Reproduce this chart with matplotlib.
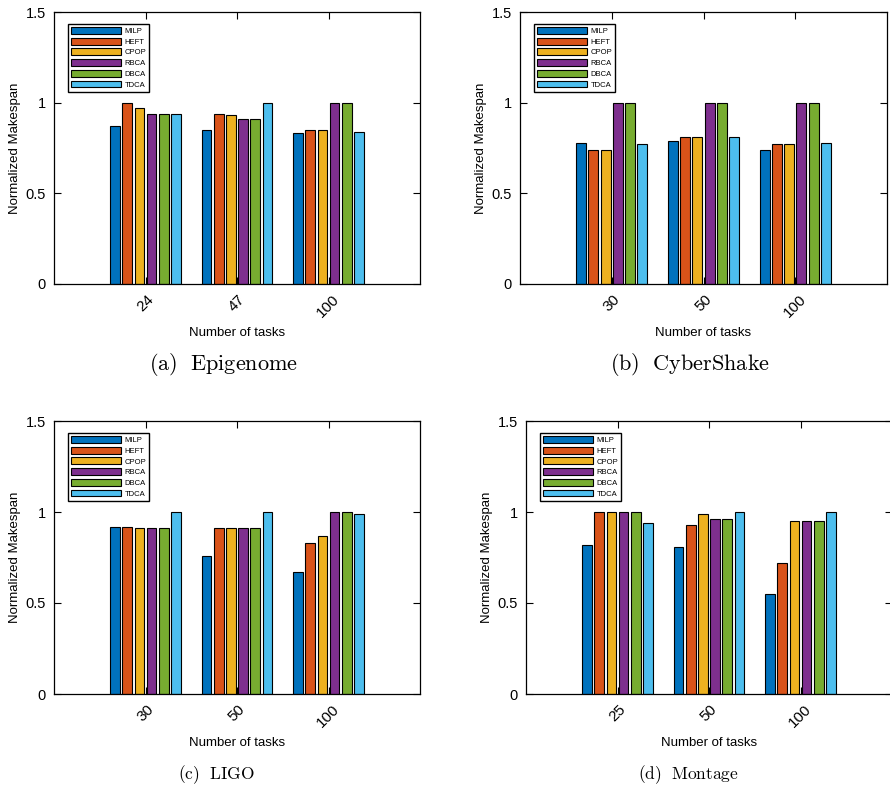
import matplotlib
matplotlib.use('Agg')
import matplotlib.pyplot as plt
import numpy as np

plt.rcParams['font.family'] = ['Liberation Sans', 'DejaVu Sans']
plt.rcParams['mathtext.fontset'] = 'cm'

methods = ['MILP', 'HEFT', 'CPOP', 'RBCA', 'DBCA', 'TDCA']
colors = ['#0072BD', '#D95319', '#EDB120', '#7E2F8E', '#77AC30', '#4DBEEE']

epigenome_tasks = ['24', '47', '100']
epigenome_vals = [[0.87, 0.85, 0.83], [1.00, 0.94, 0.85], [0.97, 0.93, 0.85],
                  [0.94, 0.91, 1.00], [0.94, 0.91, 1.00], [0.94, 1.00, 0.84]]
cybershake_tasks = ['30', '50', '100']
cybershake_vals = [[0.78, 0.79, 0.74], [0.74, 0.81, 0.77], [0.74, 0.81, 0.77],
                   [1.00, 1.00, 1.00], [1.00, 1.00, 1.00], [0.77, 0.81, 0.78]]
ligo_tasks = ['30', '50', '100']
ligo_vals = [[0.92, 0.76, 0.67], [0.92, 0.91, 0.83], [0.91, 0.91, 0.87],
             [0.91, 0.91, 1.00], [0.91, 0.91, 1.00], [1.00, 1.00, 0.99]]
montage_tasks = ['25', '50', '100']
montage_vals = [[0.82, 0.81, 0.55], [1.00, 0.93, 0.72], [1.00, 0.99, 0.95],
                [1.00, 0.96, 0.95], [1.00, 0.96, 0.95], [0.94, 1.00, 1.00]]

yticks = [0, 0.5, 1, 1.5]
ytick_labels = ['0', '0.5', '1', '1.5']

W, H = 890, 785
fig = plt.figure(figsize=(W / 100, H / 100), dpi=100)


def rect(l, r, t, b):
    return [l / W, 1 - b / H, (r - l) / W, (b - t) / H]


panels = [
    (rect(54, 420, 12, 284), epigenome_tasks, epigenome_vals),
    (rect(520, 887, 12, 284), cybershake_tasks, cybershake_vals),
    (rect(54, 420, 421, 694), ligo_tasks, ligo_vals),
    (rect(526, 892, 421, 694), montage_tasks, montage_vals),
]

for pos, tasks, vals in panels:
    ax = fig.add_axes(pos)
    x = np.arange(1, len(tasks) + 1)
    for i, (m, c) in enumerate(zip(methods, colors)):
        off = (i - 2.5) * 0.1333
        ax.bar(x + off, vals[i], width=0.107, color=c, edgecolor='black',
               linewidth=0.8, label=m, zorder=2)
    ax.set_xlim(0, len(tasks) + 1)
    ax.set_ylim(0, 1.5)
    ax.set_xticks(x)
    ax.set_xticklabels(tasks, rotation=45, ha='center', fontsize=11)
    ax.set_yticks(yticks)
    ax.set_yticklabels(ytick_labels, fontsize=10.5)
    ax.tick_params(direction='in', top=True, right=True, length=5, width=0.8)
    ax.tick_params(axis='x', pad=6)
    ax.tick_params(axis='y', pad=6)
    for s in ax.spines.values():
        s.set_linewidth(0.9)
    ax.set_ylabel('Normalized Makespan', fontsize=9.5)
    ax.yaxis.set_label_coords(-33 / 366, 0.5)
    ax.set_xlabel('Number of tasks', fontsize=9.5)
    ax.xaxis.set_label_coords(0.5, -43 / 272)
    leg = ax.legend(loc='upper left', bbox_to_anchor=(0.038, 0.956),
                    borderaxespad=0, fontsize=5.5, handlelength=6.6,
                    handleheight=1.0, labelspacing=0.35, borderpad=0.4,
                    handletextpad=0.4, fancybox=False, edgecolor='black',
                    framealpha=1)
    leg.get_frame().set_linewidth(1.0)

captions = [
    (224, 365, r'$\mathrm{(a)\ \ Epigenome}$', 16),
    (690, 365, r'$\mathrm{(b)\ \ CyberShake}$', 16),
    (216, 775, r'$\mathrm{(c)\ \ LIGO}$', 12.5),
    (688, 775, r'$\mathrm{(d)\ \ Montage}$', 12.5),
]
for cx, cy, txt, fs in captions:
    fig.text(cx / W, 1 - cy / H, txt, ha='center', va='center', fontsize=fs)

fig.savefig('out.png', dpi=100)
